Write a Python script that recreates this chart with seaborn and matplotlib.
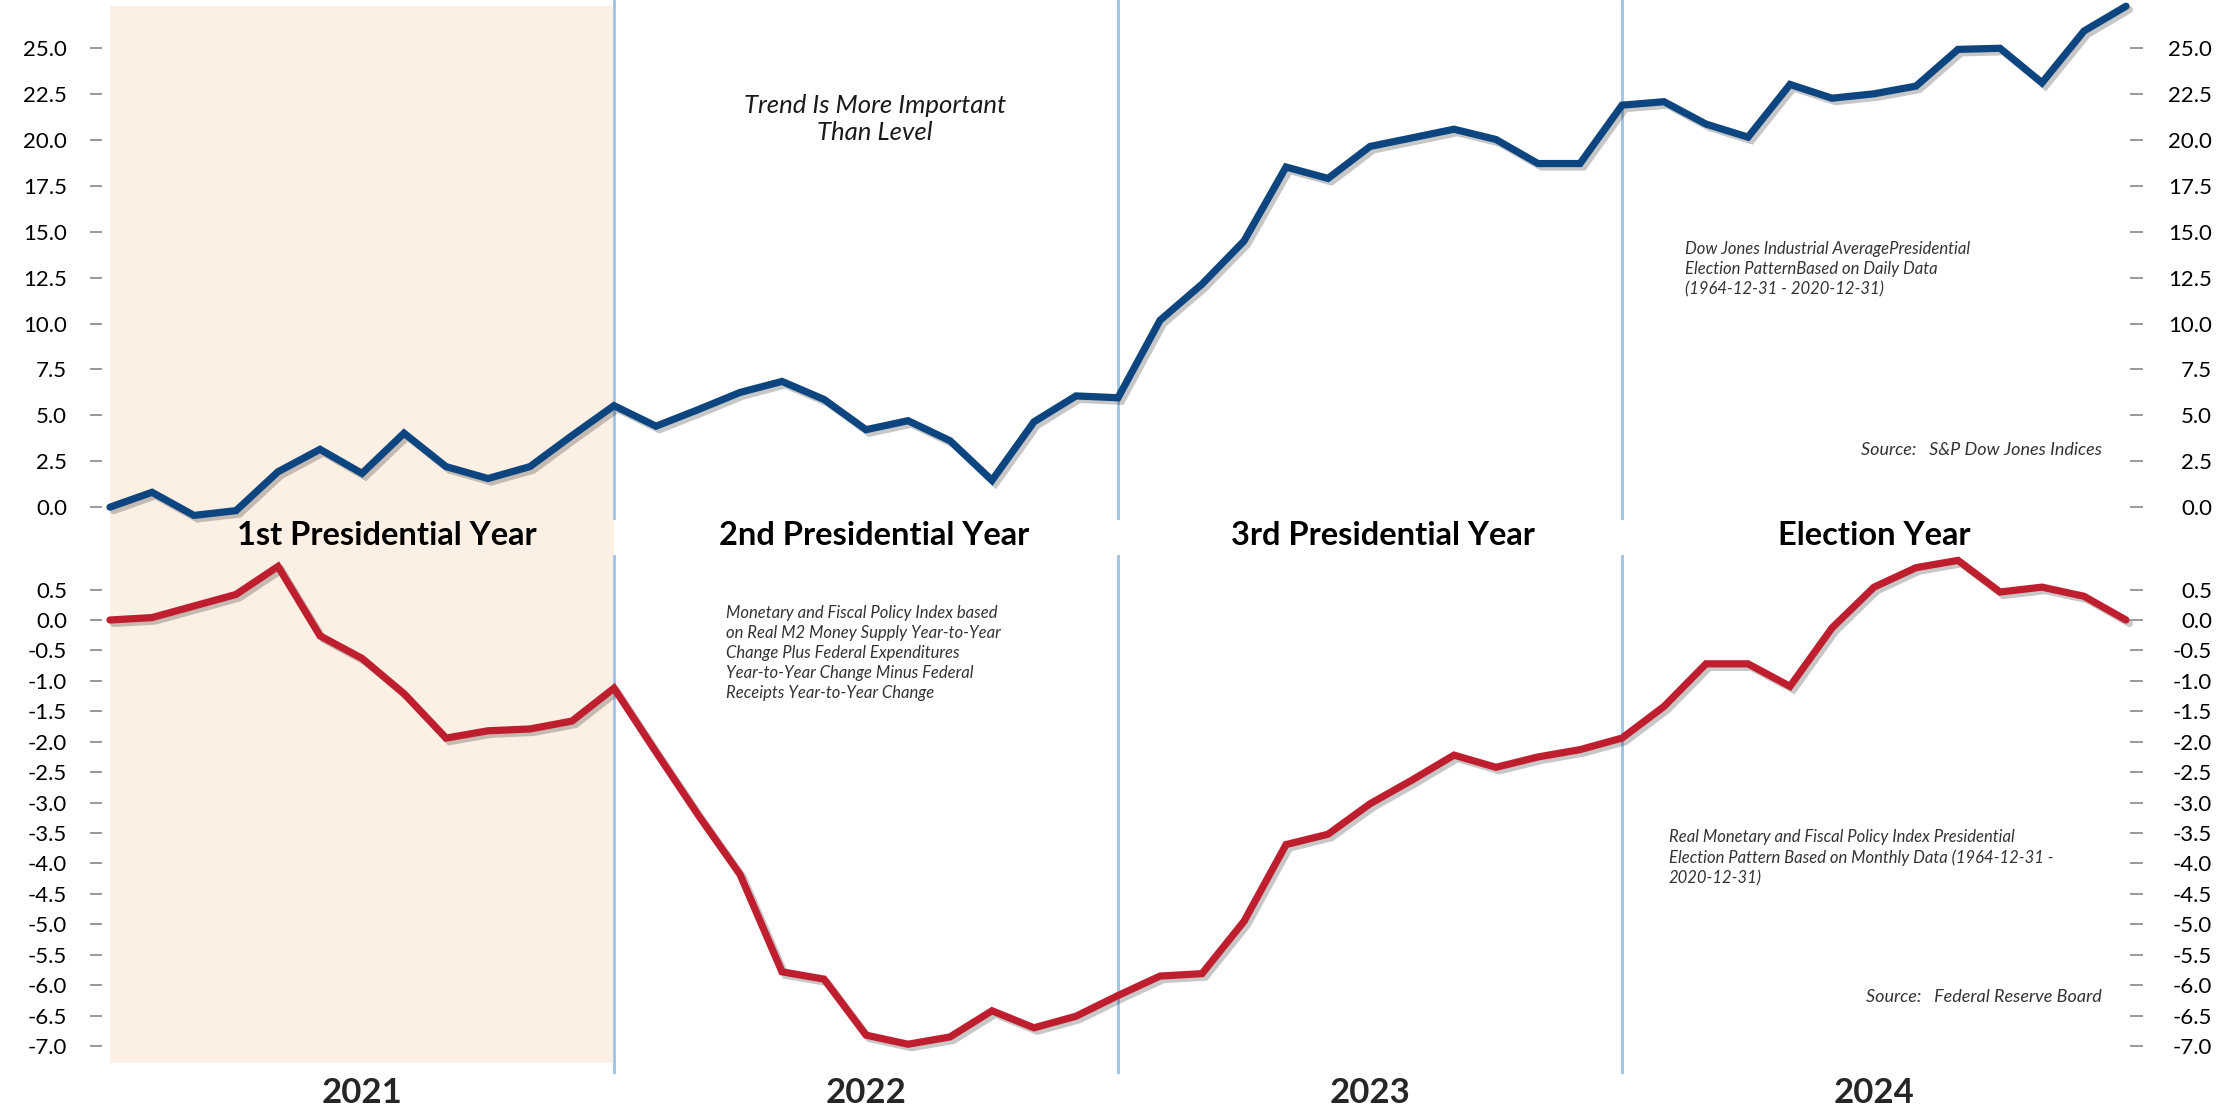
import numpy as np
import pandas as pd
import matplotlib
matplotlib.use('Agg')
import matplotlib.pyplot as plt
import matplotlib.patheffects as pe
import seaborn as sns

# monthly points over the four-year presidential cycle
month = list(range(49))
dow = [0.0, 0.81, -0.45, -0.19, 1.93, 3.15, 1.84, 4.03, 2.21, 1.56, 2.21, 3.90,
       5.53, 4.41, 5.31, 6.25, 6.85, 5.87, 4.22, 4.71, 3.62, 1.46, 4.65, 6.06,
       5.96, 10.18, 12.15, 14.50, 18.53, 17.91, 19.65, 20.12, 20.59, 20.03, 18.72, 18.72,
       21.90, 22.09, 20.87, 20.16, 23.03, 22.28, 22.52, 22.94, 24.94, 25.00, 23.12, 25.94,
       27.29]
policy = [0.0, 0.04, 0.23, 0.42, 0.88, -0.26, -0.63, -1.21, -1.94, -1.82, -1.79, -1.66,
          -1.12, -2.17, -3.20, -4.18, -5.78, -5.90, -6.82, -6.97, -6.85, -6.42, -6.70, -6.51,
          -6.17, -5.85, -5.81, -4.95, -3.69, -3.52, -3.02, -2.63, -2.22, -2.42, -2.25, -2.13,
          -1.94, -1.42, -0.72, -0.72, -1.09, -0.13, 0.54, 0.86, 0.98, 0.46, 0.54, 0.39,
          0.0]
phase_labels = ['1st Presidential Year', '2nd Presidential Year', '3rd Presidential Year', 'Election Year']
phase_x = [6.6, 18.2, 30.3, 42.0]
year_labels = ['2021', '2022', '2023', '2024']
year_x = [6, 18, 30, 42]
year_breaks = [12, 24, 36]
dow_ticks = [0, 2.5, 5, 7.5, 10, 12.5, 15, 17.5, 20, 22.5, 25]
policy_ticks = [0.5, 0, -0.5, -1, -1.5, -2, -2.5, -3, -3.5, -4, -4.5, -5, -5.5, -6, -6.5, -7]

df = pd.DataFrame({'month': month, 'dow': dow, 'policy': policy})

sns.set_style('white')
plt.rcParams['font.family'] = ['Lato', 'DejaVu Sans']
plt.rcParams['axes.unicode_minus'] = False

W, H = 2239, 1105
fig = plt.figure(figsize=(W / 100, H / 100), dpi=100)


def box(x0, y0, x1, y1):
    # pixel box (top-left origin) -> figure fraction
    return [x0 / W, 1 - y1 / H, (x1 - x0) / W, (y1 - y0) / H]


# background: shaded first year spanning both panels
bg = fig.add_axes(box(110, 6, 2126, 1063))
bg.set_xlim(0, 48)
bg.axvspan(0, 12, color='#fcefe4', lw=0)
bg.axis('off')
for x, lab in zip(phase_x, phase_labels):
    bg.text(x, 0.4995, lab, transform=bg.get_xaxis_transform(), ha='center', va='center',
            fontsize=23.5, fontweight='bold', color='black')

ax1 = fig.add_axes(box(110, 0, 2126, 520))
ax2 = fig.add_axes(box(110, 555, 2126, 1074))

shadow = [pe.SimpleLineShadow(offset=(2.5, -2.5), shadow_color='black', alpha=0.22), pe.Normal()]

sns.lineplot(data=df, x='month', y='dow', ax=ax1, color='#0d4580', linewidth=5.2,
             solid_joinstyle='miter', path_effects=shadow, clip_on=False, zorder=3)
sns.lineplot(data=df, x='month', y='policy', ax=ax2, color='#bf1e2e', linewidth=5.2,
             solid_joinstyle='miter', path_effects=shadow, clip_on=False, zorder=3)

ax1.set_ylim(-0.70, 27.63)
ax2.set_ylim(-7.459, 1.068)

for ax, ticks in [(ax1, dow_ticks), (ax2, policy_ticks)]:
    ax.patch.set_alpha(0)
    ax.set_xlim(0, 48)
    ax.set_xlabel('')
    ax.set_ylabel('')
    for x in year_breaks:
        ax.axvline(x, color='#9dc3e6', lw=2, zorder=1)
    for s in ax.spines.values():
        s.set_visible(False)
    ax.spines['left'].set_position(('outward', 5.8))
    ax.set_yticks(ticks)
    ax.set_yticklabels([f'{t:.1f}' for t in ticks])
    ax.tick_params(axis='y', direction='out', length=8.6, width=1.1, color='#7f7f7f',
                   pad=16.5, labelsize=16, labelcolor='black')

    axr = ax.twinx()
    axr.set_ylim(ax.get_ylim())
    for s in axr.spines.values():
        s.set_visible(False)
    axr.spines['right'].set_position(('outward', 2.9))
    axr.set_yticks(ticks)
    axr.set_yticklabels([f'{t:.1f}' for t in ticks])
    axr.tick_params(axis='y', direction='out', length=9.4, width=1.1, color='#7f7f7f',
                    pad=49.7, labelsize=16, labelcolor='black')
    for lab in axr.get_yticklabels():
        lab.set_ha('right')
    axr.grid(False)
    ax.grid(False)

ax1.set_xticks([])
ax2.set_xticks(year_x)
ax2.set_xticklabels(year_labels, fontsize=25, fontweight='bold')
ax2.tick_params(axis='x', length=0, pad=2)


def fx(x):
    return x / W


def fy(y):
    return 1 - y / H


fig.text(fx(875), fy(119), 'Trend Is More Important\nThan Level', ha='center', va='center',
         fontsize=18.5, style='italic', color='#1a1a1a', linespacing=1.25)
fig.text(fx(1685), fy(269), 'Dow Jones Industrial AveragePresidential\nElection PatternBased on Daily Data\n(1964-12-31 - 2020-12-31)',
         ha='left', va='center', fontsize=12, style='italic', color='#333333', linespacing=1.32)
fig.text(fx(2102), fy(450), 'Source:   S&P Dow Jones Indices', ha='right', va='center',
         fontsize=13, style='italic', color='#333333')
fig.text(fx(726), fy(653), 'Monetary and Fiscal Policy Index based\non Real M2 Money Supply Year-to-Year\nChange Plus Federal Expenditures\nYear-to-Year Change Minus Federal\nReceipts Year-to-Year Change',
         ha='left', va='center', fontsize=12, style='italic', color='#333333', linespacing=1.32)
fig.text(fx(1669), fy(858), 'Real Monetary and Fiscal Policy Index Presidential\nElection Pattern Based on Monthly Data (1964-12-31 -\n2020-12-31)',
         ha='left', va='center', fontsize=12, style='italic', color='#333333', linespacing=1.32)
fig.text(fx(2102), fy(997), 'Source:   Federal Reserve Board', ha='right', va='center',
         fontsize=13, style='italic', color='#333333')

fig.savefig('out.png', dpi=100)
